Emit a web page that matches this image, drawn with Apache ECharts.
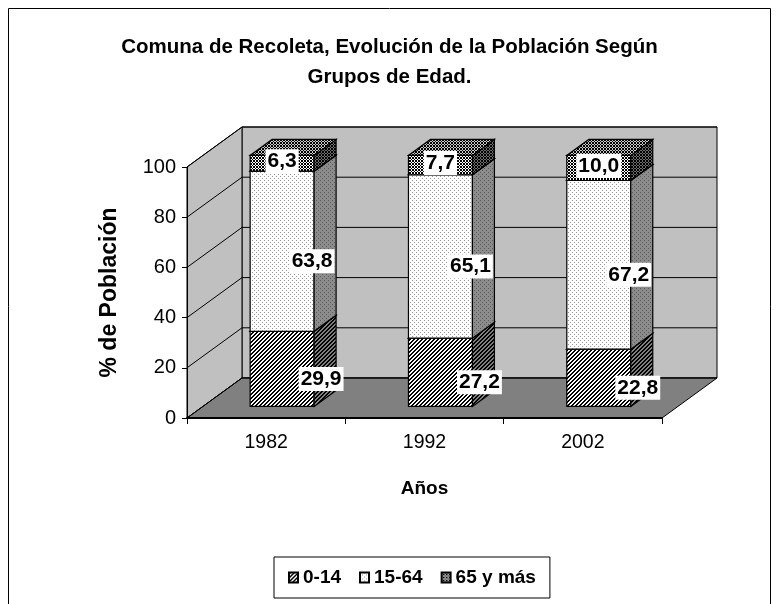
<!DOCTYPE html>
<html><head><meta charset="utf-8">
<script src="https://cdn.jsdelivr.net/npm/echarts@6/dist/echarts.min.js"></script>
<style>html,body{margin:0;padding:0;background:#fff}#c{width:779px;height:604px}</style>
</head><body><div id="c"></div>
<script>
// ---- data ----
const years = ['1982', '1992', '2002'];
const groups = ['0-14', '15-64', '65 y más'];
const s0014 = [29.9, 27.2, 22.8];
const s1564 = [63.8, 65.1, 67.2];
const s65 = [6.3, 7.7, 10.0];
const yTicks = [0, 20, 40, 60, 80, 100];
const seriesValues = [s0014, s1564, s65];

// ---- patterns ----
function makePattern(size, fn) {
  const c = document.createElement('canvas');
  c.width = size; c.height = size;
  const ctx = c.getContext('2d');
  const img = ctx.createImageData(size, size);
  for (let y = 0; y < size; y++) for (let x = 0; x < size; x++) {
    const v = fn(x, y); const k = (y * size + x) * 4;
    img.data[k] = v[0]; img.data[k + 1] = v[1]; img.data[k + 2] = v[2]; img.data[k + 3] = 255;
  }
  ctx.putImageData(img, 0, 0);
  return { image: c, repeat: 'repeat' };
}
const K = [0, 0, 0], W = [255, 255, 255];
const g = v => [v, v, v];
const hatch = bg => makePattern(8, (x, y) => ((x + y) % 4 < 2 ? K : bg));
const dots = (bg, dot) => makePattern(8, (x, y) => (((x % 4 === 0 && y % 4 === 0) || (x % 4 === 2 && y % 4 === 2)) ? dot : bg));
const cross = bg => makePattern(6, (x, y) => (((x + y) % 3 === 0 || (x - y + 6) % 3 === 0) ? K : bg));
const fills = [
  { front: hatch(W), side: hatch(g(128)), top: hatch(g(200)) },
  { front: dots(W, g(150)), side: dots(g(140), g(90)), top: dots(g(220), g(120)) },
  { front: cross(W), side: cross(g(110)), top: cross(g(200)) }
];

// ---- 3D geometry (pixels) ----
const DX = 55, DY = 40;          // wall depth
const FR = 0.29, DEP = 0.4;      // bar front offset and depth (fraction of wall depth)
const BARW = 0.404;              // bar width / band width
const labelOff = [[39, 10], [30, 10], [0, -2]];
const fmt = v => v.toFixed(1).replace('.', ',');

function barRender(s) {
  return function (params, api) {
    const i = api.value(0), lo = api.value(1), hi = api.value(2), val = api.value(3);
    const pb = api.coord([i, lo]), pt = api.coord([i, hi]);
    const band = api.size([1, 0])[0];
    const w = band * BARW;
    const fx = FR * DX, fy = FR * DY, bx = DEP * DX, by = DEP * DY;
    const x0 = pb[0] - w / 2 + fx, x1 = x0 + w;
    const yB = pb[1] - fy, yT = pt[1] - fy;
    const st = { stroke: '#000', lineWidth: 1.2 };
    const f = fills[s];
    return {
      type: 'group',
      children: [
        { type: 'polygon', z2: 1, shape: { points: [[x0, yT], [x1, yT], [x1, yB], [x0, yB]] }, style: Object.assign({ fill: f.front }, st) },
        { type: 'polygon', z2: 1, shape: { points: [[x1, yB], [x1 + bx, yB - by], [x1 + bx, yT - by], [x1, yT]] }, style: Object.assign({ fill: f.side }, st) },
        { type: 'polygon', z2: 1, shape: { points: [[x0, yT], [x1, yT], [x1 + bx, yT - by], [x0 + bx, yT - by]] }, style: Object.assign({ fill: f.top }, st) },
        { type: 'text', z2: 50, style: {
            text: fmt(val), x: x0 + w / 2 + labelOff[s][0], y: (yB + yT) / 2 + labelOff[s][1],
            align: 'center', verticalAlign: 'middle', fill: '#000',
            font: 'bold 21px "Liberation Sans", Arial, sans-serif',
            backgroundColor: '#fff', padding: [2, 2, 1, 2] } }
      ]
    };
  };
}

function wallsRender(params, api) {
  const cs = params.coordSys;
  const gx0 = cs.x, gx1 = cs.x + cs.width, gy0 = cs.y, gy1 = cs.y + cs.height;
  const st = { stroke: '#000', lineWidth: 1 };
  const ch = [
    { type: 'polygon', shape: { points: [[gx0 + DX, gy0 - DY], [gx1 + DX, gy0 - DY], [gx1 + DX, gy1 - DY], [gx0 + DX, gy1 - DY]] }, style: Object.assign({ fill: '#c0c0c0' }, st) },
    { type: 'polygon', shape: { points: [[gx0, gy0], [gx0 + DX, gy0 - DY], [gx0 + DX, gy1 - DY], [gx0, gy1]] }, style: Object.assign({ fill: '#c0c0c0' }, st) },
    { type: 'polygon', shape: { points: [[gx0, gy1], [gx1, gy1], [gx1 + DX, gy1 - DY], [gx0 + DX, gy1 - DY]] }, style: Object.assign({ fill: '#808080' }, st) }
  ];
  yTicks.forEach(v => {
    const yy = api.coord([0, v])[1];
    ch.push({ type: 'polyline', shape: { points: [[gx0, yy], [gx0 + DX, yy - DY], [gx1 + DX, yy - DY]] }, style: { stroke: '#000', lineWidth: 1, fill: null } });
  });
  return { type: 'group', children: ch };
}

const series = [{
  type: 'custom', name: '_walls', z: 1, silent: true, renderItem: wallsRender, data: [[0, 0]]
}];
seriesValues.forEach((vals, s) => {
  series.push({
    type: 'custom', name: groups[s], z: 4, renderItem: barRender(s),
    itemStyle: { color: fills[s].front, borderColor: '#000', borderWidth: 1 },
    encode: { x: 0, y: [1, 2] },
    data: vals.map((v, i) => {
      let base = 0; for (let k = 0; k < s; k++) base += seriesValues[k][i];
      return [i, base, base + v, v];
    })
  });
});

const FONT = '"Liberation Sans", Arial, sans-serif';
const chart = echarts.init(document.getElementById('c'), null, { renderer: 'canvas' });
chart.setOption({
  animation: false,
  backgroundColor: '#fff',
  textStyle: { fontFamily: FONT, color: '#000' },
  title: {
    text: 'Comuna de Recoleta, Evolución de la Población Según\nGrupos de Edad.',
    left: 'center', top: 27,
    textStyle: { fontSize: 20.5, fontWeight: 'bold', lineHeight: 30, color: '#000', fontFamily: FONT }
  },
  legend: {
    data: groups, left: 274, top: 557, orient: 'horizontal',
    padding: [11, 14], itemGap: 18, itemWidth: 9, itemHeight: 10,
    borderColor: '#000', borderWidth: 1, selectedMode: false, icon: 'rect',
    textStyle: { fontSize: 19, fontWeight: 'bold', color: '#000', fontFamily: FONT }
  },
  grid: { left: 187, right: 117, top: 167, bottom: 186, containLabel: false },
  xAxis: {
    type: 'category', data: years, z: 3,
    name: 'Años', nameLocation: 'middle', nameGap: 61,
    nameTextStyle: { fontSize: 19, fontWeight: 'bold', color: '#000', fontFamily: FONT },
    axisLine: { lineStyle: { color: '#000', width: 2 } },
    axisTick: { show: true, length: 6, lineStyle: { color: '#000' } },
    axisLabel: { fontSize: 19.5, color: '#000', margin: 15, fontFamily: FONT },
    splitLine: { show: false }
  },
  yAxis: {
    type: 'value', min: 0, max: 100, interval: 20, z: 3,
    name: '% de Población', nameLocation: 'middle', nameGap: 66,
    nameTextStyle: { fontSize: 23, fontWeight: 'bold', color: '#000', fontFamily: FONT },
    axisLine: { show: true, lineStyle: { color: '#000', width: 1 } },
    axisTick: { show: true, length: 5, lineStyle: { color: '#000' } },
    axisLabel: { fontSize: 20, color: '#000', margin: 11, fontFamily: FONT },
    splitLine: { show: false }
  },
  graphic: [{
    type: 'rect', z: 100, silent: true,
    shape: { x: 8.5, y: 8.5, width: 762, height: 640 },
    style: { fill: null, stroke: '#000', lineWidth: 1 }
  }],
  series: series
});
</script>
</body></html>
